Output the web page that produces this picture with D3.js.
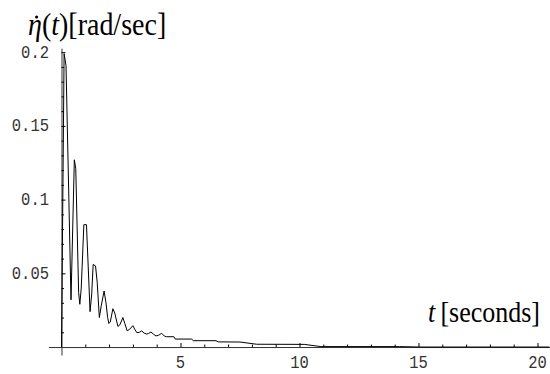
<!DOCTYPE html>
<html>
<head>
<meta charset="utf-8">
<script src="https://cdn.jsdelivr.net/npm/d3@7"></script>
<style>
  html, body { margin: 0; padding: 0; background: #fff; }
  svg { display: block; }
</style>
</head>
<body>
<script>
// Time samples [seconds]
const timeValues = [
  0.00, 0.11, 0.19, 0.40, 0.54, 0.60, 0.72, 0.77, 0.83, 0.94,
  1.05, 1.20, 1.27, 1.33, 1.43, 1.50, 1.59, 1.67, 1.79, 1.87,
  1.94, 1.99, 2.05, 2.16, 2.24, 2.37, 2.45, 2.58, 2.66, 2.76,
  2.86, 3.00, 3.08, 3.17, 3.27, 3.37, 3.47, 3.58, 3.66, 3.76,
  3.86, 3.97, 4.08, 4.21, 4.32, 4.40, 4.72, 4.78, 5.47, 5.54,
  6.49, 6.58, 7.50, 8.20, 10.20, 10.90, 14.20, 15.10, 20.50
];

// Angular rate eta-dot(t) [rad/sec]
const rateValues = [
  0.000, 0.199, 0.191, 0.032, 0.127, 0.121, 0.037, 0.029, 0.040, 0.083,
  0.083, 0.024, 0.036, 0.056, 0.055, 0.044, 0.020, 0.028, 0.038, 0.030,
  0.020, 0.016, 0.017, 0.026, 0.023, 0.014, 0.015, 0.020, 0.016, 0.011,
  0.012, 0.0145, 0.012, 0.0097, 0.010, 0.011, 0.0095, 0.0088, 0.0092, 0.0102,
  0.0088, 0.0075, 0.0080, 0.0093, 0.0075, 0.0070, 0.0070, 0.0054, 0.0054, 0.0043,
  0.0043, 0.0035, 0.0034, 0.0019, 0.0018, 0.0003, 0.0003, 0.0000, 0.0000
];

const xMajorTicks = [5, 10, 15, 20];
const xTickLabels = ['5', '10', '15', '20'];
const yMajorTicks = [0.05, 0.1, 0.15, 0.2];
const yTickLabels = ['0.05', '0.1', '0.15', '0.2'];

document.addEventListener('DOMContentLoaded', () => {
  drawChart();
});

const drawChart = () => {
  const width = 550, height = 374;
  const textStretch = 1.15; // source picture is a bit taller than wide

  const data = timeValues.map((t, i) => ({t: t, v: rateValues[i]}));

  // Scales ------------------------
  const xScale = d3.scaleLinear()
        .domain([-0.55, 20.5])
        .range([48.4, 549.4]);

  const yScale = d3.scaleLinear()
        .domain([-0.0054, 0.2027])
        .range([355, 48.2]);

  const x0 = xScale(0);
  const y0 = yScale(0);

  const svg = d3.select('body')
        .append('svg')
        .attr('width', width)
        .attr('height', height);

  const minorX = d3.range(1, 21).filter(d => d % 5 !== 0);
  const minorY = d3.range(1, 21).map(d => d / 100).filter(d => Math.round(d * 100) % 5 !== 0);

  // X-Axis -------------------------
  svg.append('g')
    .attr('transform', `translate(0, ${y0})`)
    .call(d3.axisBottom(xScale).tickValues(minorX).tickSizeInner(-2.5).tickSizeOuter(0).tickFormat(''))
    .call(g => g.select('.domain').attr('stroke', '#333'));

  svg.append('g')
    .attr('transform', `translate(0, ${y0})`)
    .call(d3.axisBottom(xScale).tickValues(xMajorTicks).tickSizeInner(-4).tickSizeOuter(0).tickFormat(''))
    .call(g => g.select('.domain').remove());

  // Y-Axis -------------------------
  svg.append('g')
    .attr('transform', `translate(${x0}, 0)`)
    .call(d3.axisLeft(yScale).tickValues(minorY).tickSizeInner(-2.5).tickSizeOuter(0).tickFormat(''))
    .call(g => g.select('.domain').attr('stroke', '#333'));

  svg.append('g')
    .attr('transform', `translate(${x0}, 0)`)
    .call(d3.axisLeft(yScale).tickValues(yMajorTicks).tickSizeInner(-4).tickSizeOuter(0).tickFormat(''))
    .call(g => g.select('.domain').remove());

  // Tick labels (Courier-like) -----
  svg.append('g')
    .attr('font-family', '"Liberation Mono", "DejaVu Sans Mono", monospace')
    .attr('font-size', 15.5)
    .attr('fill', '#333')
    .attr('text-anchor', 'middle')
    .selectAll('text')
    .data(xMajorTicks)
    .join('text')
    .attr('transform', d => `translate(${xScale(d)}, ${y0 + 21}) scale(1, ${textStretch})`)
    .text((d, i) => xTickLabels[i]);

  svg.append('g')
    .attr('font-family', '"Liberation Mono", "DejaVu Sans Mono", monospace')
    .attr('font-size', 15.5)
    .attr('fill', '#333')
    .attr('text-anchor', 'end')
    .selectAll('text')
    .data(yMajorTicks)
    .join('text')
    .attr('transform', d => `translate(${x0 - 12.5}, ${yScale(d) + 5.5}) scale(1, ${textStretch})`)
    .text((d, i) => yTickLabels[i]);

  // Curve --------------------------
  const line = d3.line()
        .x(d => xScale(d.t))
        .y(d => yScale(d.v));

  svg.append('path')
    .datum(data)
    .attr('fill', 'none')
    .attr('stroke', '#000')
    .attr('stroke-width', 1)
    .attr('d', line);

  // Axis titles --------------------
  const yTitle = svg.append('text')
        .attr('font-family', '"Liberation Serif", "Times New Roman", serif')
        .attr('font-size', 28)
        .attr('fill', '#000')
        .attr('transform', `translate(28, 35) scale(1, ${textStretch})`);
  const eta = yTitle.append('tspan').attr('font-style', 'italic').text('\u03B7');
  yTitle.append('tspan').text('(');
  yTitle.append('tspan').attr('font-style', 'italic').text('t');
  yTitle.append('tspan').text(')[rad/sec]');

  // dot accent over eta (time derivative)
  const etaWidth = eta.node().getComputedTextLength();
  svg.append('circle')
    .attr('cx', 28 + etaWidth * 0.62)
    .attr('cy', 17)
    .attr('r', 1.6)
    .attr('fill', '#000');

  const xTitle = svg.append('text')
        .attr('font-family', '"Liberation Serif", "Times New Roman", serif')
        .attr('font-size', 26)
        .attr('fill', '#000')
        .attr('text-anchor', 'end')
        .attr('transform', `translate(540, 322) scale(1, ${textStretch})`);
  xTitle.append('tspan').attr('font-style', 'italic').text('t');
  xTitle.append('tspan').text('\u2009[seconds]');
}
</script>
</body>
</html>
